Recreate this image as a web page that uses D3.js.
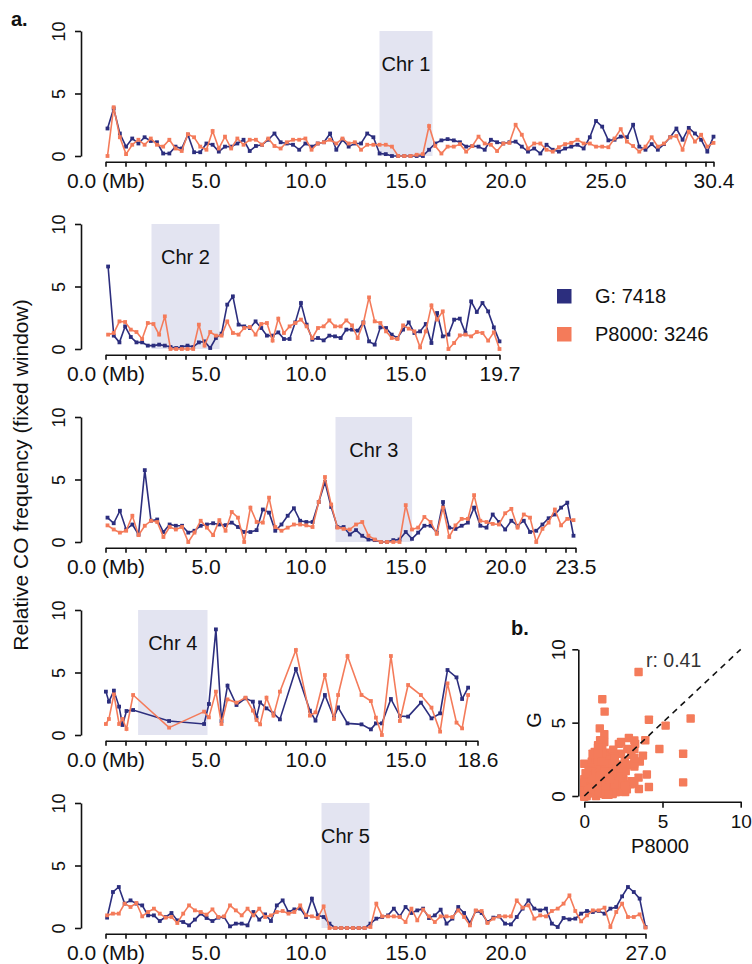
<!DOCTYPE html>
<html>
<head>
<meta charset="utf-8">
<script src="https://cdn.jsdelivr.net/npm/d3@7"></script>
<style>
  body { margin: 0; background: #fff; }
  svg text { font-family: "Liberation Sans", Arial, Helvetica, sans-serif; fill: #111; }
</style>
</head>
<body>
<script>
// ---- data ----
const chrNames = ["Chr 1", "Chr 2", "Chr 3", "Chr 4", "Chr 5"];
const chrLengths = [30.4, 19.7, 23.5, 18.6, 27.0];
const centromeres = [[13.7, 16.35], [2.3, 5.7], [11.5, 15.33], [1.63, 5.1], [10.8, 13.2]];
// first and last window centre (Mb) for evenly spaced windows
const windowSpans = [[0.1, 30.4], [0.13, 19.7], [0.1, 23.4], null, [0.08, 27.0]];
// chr 4 has uneven windows
const chr4Pos = [0.02, 0.17, 0.42, 0.68, 0.85, 1.05, 1.38, 3.18, 4.93, 5.17, 5.52, 5.8, 6.1, 6.55, 7.0,
  7.37, 7.55, 7.73, 8.05, 8.4, 8.72, 9.52, 10.22, 10.5, 10.97, 11.42, 11.63, 12.1, 12.8, 13.27, 13.52,
  13.82, 14.27, 14.72, 15.13, 15.77, 16.3, 16.73, 17.1, 17.55, 17.83, 18.13];

const chr1G = [2.2, 3.8, 1.8, 0.75, 1.4, 1.0, 1.5, 1.2, 1.1, 0.2, 0.2, 0.75, 0.6, 1.7, 0.3, 0.3, 1.0, 0.9, 0.35, 0.75,
  0.75, 1.0, 1.3, 0.4, 0.8, 0.9, 1.3, 1.8, 1.1, 1.0, 0.9, 0.5, 1.0, 0.75, 1.0, 1.1, 1.8, 0.5, 1.3, 0.75,
  1.0, 1.0, 1.8, 1.5, 0.2,
  0.15, 0, 0, 0, 0, 0, 0, 0.5, 1.0, 1.25, 1.35, 1.25, 1.1, 0.75, 0.8, 0.75, 0.5, 1.3, 1.1, 1.0,
  1.1, 1.15, 0.75, 0.35, 0.6, 0.2, 0.9, 0.5, 0.35, 0.6, 0.75, 0.9, 0.6, 1.5, 2.8, 2.35, 1.25, 1.3, 1.55, 1.5,
  2.5, 0.75, 0.5, 0.95, 0.5, 0.95, 1.5, 2.2, 1.3, 2.25, 1.8, 1.3, 0.35, 1.55];
const chr1P = [0, 3.9, 1.5, 0.15, 0.9, 1.3, 0.9, 1.4, 0.9, 0.75, 1.3, 0.6, 0.4, 1.75, 1.5, 0.75, 0.5, 2.0, 0.6, 1.55,
  0.6, 1.4, 0.9, 1.3, 1.3, 0.9, 1.4, 0.8, 0.6, 1.1, 1.3, 1.3, 1.4, 0.5, 1.0, 1.1, 1.3, 1.0, 1.4, 1.0,
  1.1, 0.5, 0.9, 0.9, 0.9,
  0.9, 0.75, 0, 0, 0, 0.1, 0.15, 2.4, 0.8, 0.2, 0.75, 0.75, 0.95, 0.35, 0.8, 1.55, 1.0, 0.9, 0.4, 1.0,
  1.05, 2.5, 1.7, 0.6, 1.0, 1.0, 0.5, 0.35, 0.7, 0.95, 1.05, 1.3, 1.0, 1.0, 0.75, 0.75, 0.7, 1.4, 2.15, 1.15,
  0.8, 0.35, 0.75, 1.5, 0.75, 1.0, 1.5, 1.6, 0.5, 1.95, 1.15, 1.7, 0.75, 1.05];

const chr2G = [6.6, 1.07, 0.53, 1.81, 0.96, 0.53, 0.53, 0.27, 0.27, 0.35, 0.27, 0.16, 0.08, 0.16, 0.27, 0.16, 0.53, 0.61, 0.08, 0.88,
  1.23, 3.55, 4.21, 1.95, 1.81, 1.68, 2.21, 1.68, 1.07, 1.07, 1.33, 0.8, 0.8, 2.13, 3.68, 1.95, 0.75, 0.88, 0.69, 1.07,
  1.01, 0.88, 1.55, 1.55, 1.47, 2.13, 0.61, 0.35, 1.73, 1.68, 1.15, 0.88, 1.55, 2.13, 1.28, 1.41, 2.0, 0.48, 2.88, 1.01,
  1.15, 2.35, 2.43, 1.28, 3.81, 2.96, 3.68, 3.01, 1.73, 0.61];
const chr2P = [1.15, 1.28, 2.21, 2.16, 1.55, 1.36, 0.8, 2.08, 2.0, 1.15, 2.61, 0, 0, 0, 0, 0, 1.95, 0.27, 1.36, 1.07,
  1.07, 2.21, 1.28, 1.15, 1.68, 1.76, 1.15, 2.0, 2.08, 0.67, 2.43, 1.28, 1.81, 2.08, 2.35, 1.81, 0.88, 1.68, 1.81, 2.29,
  1.81, 1.81, 2.29, 1.89, 0.88, 2.08, 4.13, 2.21, 2.08, 1.41, 0.88, 0.8, 1.89, 1.63, 1.41, 0.13, 1.41, 3.49, 2.35, 3.01,
  0, 0.48, 1.09, 1.15, 1.01, 1.36, 1.28, 0.67, 1.33, 0];

const chr3G = [1.95, 1.5, 2.5, 1.0, 1.4, 0.6, 5.75, 1.7, 1.8, 0.8, 1.4, 1.3, 1.3, 0.75, 0.9, 1.3, 1.4, 1.5, 1.4, 1.35,
  1.55, 1.2, 0.8, 0.8, 0.95, 2.6, 2.35, 0.9, 1.4, 2.1, 2.7, 1.7, 1.6, 1.6, 3.2, 4.8, 2.8, 1.2, 1.2, 0.6,
  0.95, 0.5, 0.2, 0.15, 0, 0, 0.15, 0.2, 0.8, 0.25, 0.75, 1.3, 1.3, 0.75, 3.2, 1.15, 1.05, 1.3, 1.55, 2.75,
  1.3, 1.15, 2.2, 1.6, 1.0, 1.7, 1.3, 1.7, 0.8, 0.9, 1.4, 1.9, 2.2, 2.75, 3.15, 0.5];
const chr3P = [1.33, 1.0, 0.75, 0.9, 2.1, 0.55, 1.3, 1.7, 1.6, 0.4, 1.2, 1.0, 1.2, 0, 0.75, 1.7, 1.15, 0.55, 1.75, 0.9,
  2.4, 1.95, 0, 2.75, 1.6, 1.55, 3.55, 1.2, 0.9, 1.15, 1.4, 1.4, 1.33, 1.2, 3.2, 5.2, 3.0, 1.15, 1.05, 1.0,
  1.4, 1.6, 0.5, 0.2, 0, 0, 0, 0, 2.95, 1.0, 1.15, 2.0, 1.6, 0.65, 2.75, 0.4, 1.33, 1.85, 1.85, 3.75,
  1.7, 1.6, 1.45, 1.4, 2.3, 2.65, 1.15, 2.2, 1.95, 0, 1.05, 1.55, 2.6, 1.33, 1.85, 1.75];

const chr4G = [3.47, 2.67, 3.55, 2.27, 0.8, 1.92, 2.0, 1.12, 0.88, 2.48, 8.45, 1.12, 3.95, 2.4, 2.93, 2.67, 1.39, 2.61, 2.13, 1.73,
  1.25, 5.28, 1.95, 1.15, 3.2, 1.4, 2.21, 0.93, 0.85, 0.45, 0.93, 0.93, 2.88, 1.52, 1.47, 2.59, 1.33, 1.73, 5.2, 4.61,
  2.88, 3.79];
const chr4P = [0.88, 1.28, 3.25, 0.88, 1.28, 0.48, 3.2, 0.59, 1.87, 1.41, 3.47, 0.88, 2.85, 2.59, 2.99, 1.95, 1.2, 0.85, 2.99, 1.55,
  3.47, 6.8, 1.55, 1.81, 4.8, 1.28, 3.2, 6.32, 3.2, 2.72, 1.39, 0, 6.32, 1.12, 4.0, 3.2, 2.19, 0.27, 4.13, 0.99,
  0.53, 3.2];

const chr5G = [0.83, 2.88, 3.28, 1.95, 2.21, 1.95, 1.81, 1.01, 1.01, 0.56, 0.88, 1.2, 0.61, 0.48, 0.21, 0.67, 1.15, 0.8, 0.56, 0.83,
  0.88, 0.13, 0.35, 0.35, 0.21, 1.28, 0.67, 1.09, 0.56, 1.81, 2.21, 1.28, 1.49, 1.55, 0.88, 2.35, 1.01, 0.88, 0.35, 0,
  0, 0, 0, 0, 0, 0.35,
  0.75, 0.88, 1.01, 1.55, 0.93, 1.68, 1.2, 1.41, 1.55, 0.8, 1.01, 1.47, 0.35, 0.75, 1.68, 1.2, 0.4, 1.36, 1.2, 0.48,
  0.83, 0.93, 0.35, 0.29, 0.88, 1.55, 2.21, 1.55, 1.41, 1.55, 0.35, 0.08, 0.8, 0.69, 0.75, 1.15, 1.36, 1.28, 1.36, 1.15,
  1.55, 1.68, 2.53, 3.28, 2.88, 2.35, 0.08];
const chr5P = [1.01, 1.15, 1.15, 1.95, 1.68, 2.0, 0.93, 1.28, 1.55, 1.15, 0.83, 0.88, 0.4, 1.15, 1.81, 1.41, 1.28, 1.07, 1.49, 0.88,
  0.93, 1.81, 1.41, 1.01, 1.55, 1.01, 1.55, 0.88, 1.01, 1.28, 1.36, 1.15, 1.28, 1.81, 1.01, 0.93, 0.8, 1.73, 0, 0,
  0, 0, 0, 0, 0, 0.08,
  1.95, 0.93, 0.93, 0.93, 0.88, 0.48, 1.55, 0.61, 1.47, 0.93, 0.48, 0.93, 0.93, 0.88, 1.41, 0.88, 0.21, 1.41, 1.36, 0.4,
  0.75, 0.93, 0.93, 0.93, 2.21, 1.63, 1.81, 0.75, 1.01, 0.93, 1.36, 1.55, 1.95, 2.61, 1.36, 0.53, 1.01, 1.41, 1.41, 1.63,
  0.08, 1.28, 1.95, 0.88, 0.88, 1.09, 0.03];

const gValues = [chr1G, chr2G, chr3G, chr4G, chr5G];
const pValues = [chr1P, chr2P, chr3P, chr4P, chr5P];
const seriesNames = ["G", "P8000"];
const seriesCounts = [7418, 3246];
const seriesColors = ["#2c2e7e", "#f47b5a"];
const corrR = 0.41;

// ---- layout ----
const svg = d3.select("body").append("svg")
  .attr("width", 752)
  .attr("height", 964);

const xStart = 105.5;   // pixel of 0 Mb
const pxPerMb = 20;
const axisX = 81;

function windowPositions(k, n) {
  if (k === 3) return chr4Pos;
  const s = d3.scaleLinear().domain([0, n - 1]).range(windowSpans[k]);
  return d3.range(n).map(s);
}

chrNames.forEach((name, k) => {
  const base = 156 + 193 * k;
  const len = chrLengths[k];
  const x = d3.scaleLinear().domain([0, len]).range([xStart, xStart + pxPerMb * len]);
  const y = d3.scaleLinear().domain([0, 10]).range([base, base - 125]);
  const g = svg.append("g").attr("class", "panel");

  // centromere box
  const c = centromeres[k];
  g.append("rect")
    .attr("x", x(c[0]))
    .attr("y", y(10))
    .attr("width", x(c[1]) - x(c[0]))
    .attr("height", y(0) - y(10))
    .attr("fill", "#e3e4f1");
  g.append("text")
    .attr("x", x((c[0] + c[1]) / 2))
    .attr("y", y(7.4) + 7)
    .attr("text-anchor", "middle")
    .style("font-size", "20px")
    .text(name);

  // y axis
  const ya = g.append("g")
    .attr("transform", `translate(${axisX},0)`)
    .call(d3.axisLeft(y).tickValues([0, 5, 10]).tickSize(6).tickSizeOuter(0).tickFormat(d3.format("d")));
  ya.selectAll(".tick text")
    .attr("transform", "rotate(-90)")
    .attr("x", 0).attr("y", -16).attr("dy", 0)
    .attr("text-anchor", "middle")
    .style("font-size", "18px");

  // x axis: 1 Mb ticks, labels every 5 Mb plus the chromosome end
  const ticks = d3.range(0, Math.floor(len) + 1);
  if (len > Math.floor(len)) ticks.push(len);
  const xa = g.append("g")
    .attr("transform", `translate(0,${base + 5.7})`)
    .call(d3.axisBottom(x).tickValues(ticks).tickSize(5).tickSizeOuter(0)
      .tickFormat(d => {
        if (d === 0) return "0.0 (Mb)";
        if (d === len) return d.toFixed(1);
        if (d % 5 === 0 && d <= len - 3) return d.toFixed(1);
        return "";
      }));
  xa.selectAll(".tick text")
    .attr("y", 26.5).attr("dy", 0)
    .style("font-size", "21px");

  [ya, xa].forEach(a => {
    a.selectAll("path, line").attr("stroke", "#111").attr("stroke-width", 1.6);
    a.selectAll("text").attr("fill", "#111");
  });

  // G and P8000 series
  const pos = windowPositions(k, gValues[k].length);
  [gValues[k], pValues[k]].forEach((vals, s) => {
    const pts = vals.map((v, i) => [pos[i], v]);
    g.append("path")
      .datum(pts)
      .attr("d", d3.line().x(d => x(d[0])).y(d => y(d[1])))
      .attr("fill", "none")
      .attr("stroke", seriesColors[s])
      .attr("stroke-width", 1.6);
    g.append("g").selectAll("rect")
      .data(pts)
      .join("rect")
      .attr("x", d => x(d[0]) - 1.9)
      .attr("y", d => y(d[1]) - 1.9)
      .attr("width", 3.8)
      .attr("height", 3.8)
      .attr("fill", seriesColors[s]);
  });
});

// y title
svg.append("text")
  .attr("transform", "translate(28,475) rotate(-90)")
  .attr("text-anchor", "middle")
  .style("font-size", "21px")
  .text("Relative CO frequency (fixed window)");

// panel letters
svg.append("text").attr("x", 11).attr("y", 26)
  .style("font-size", "20px").style("font-weight", "bold").text("a.");
svg.append("text").attr("x", 511).attr("y", 635)
  .style("font-size", "20px").style("font-weight", "bold").text("b.");

// legend
seriesNames.forEach((n, s) => {
  const ly = 289 + 38 * s;
  svg.append("rect")
    .attr("x", 557).attr("y", ly)
    .attr("width", 14.5).attr("height", 14.5)
    .attr("fill", seriesColors[s]);
  svg.append("text")
    .attr("x", 595).attr("y", ly + 13.5)
    .style("font-size", "20px")
    .text(`${n}: ${seriesCounts[s]}`);
});

// ---- b. scatter of P8000 vs G per window ----
const sx = d3.scaleLinear().domain([0, 10]).range([584.3, 740.7]);
const sy = d3.scaleLinear().domain([0, 10]).range([796, 649.3]);
const pairs = [];
gValues.forEach((gv, k) => gv.forEach((v, i) => pairs.push([pValues[k][i], v])));

const sc = svg.append("g").attr("class", "scatter");
sc.append("g").selectAll("rect")
  .data(pairs)
  .join("rect")
  .attr("x", d => sx(d[0]) - 4.2)
  .attr("y", d => sy(d[1]) - 4.2)
  .attr("width", 8.4)
  .attr("height", 8.4)
  .attr("rx", 0.8)
  .attr("fill", seriesColors[1]);

sc.append("line")
  .attr("x1", sx(0)).attr("y1", sy(0))
  .attr("x2", sx(10)).attr("y2", sy(10))
  .attr("stroke", "#111")
  .attr("stroke-width", 1.6)
  .attr("stroke-dasharray", "6,5");

const sya = sc.append("g")
  .attr("transform", "translate(578.3,0)")
  .call(d3.axisLeft(sy).tickValues([0, 5, 10]).tickSize(6).tickSizeOuter(0).tickFormat(d3.format("d")));
sya.selectAll(".tick text")
  .attr("transform", "rotate(-90)")
  .attr("x", 0).attr("y", -13).attr("dy", 0)
  .attr("text-anchor", "middle")
  .style("font-size", "19px");
const sxa = sc.append("g")
  .attr("transform", "translate(0,801.7)")
  .call(d3.axisBottom(sx).tickValues([0, 5, 10]).tickSize(6).tickSizeOuter(0).tickFormat(d3.format("d")));
sxa.selectAll(".tick text")
  .attr("y", 26).attr("dy", 0)
  .style("font-size", "19px");
[sya, sxa].forEach(a => {
  a.selectAll("path, line").attr("stroke", "#111").attr("stroke-width", 1.6);
  a.selectAll("text").attr("fill", "#111");
});

sc.append("text")
  .attr("transform", "translate(541,720) rotate(-90)")
  .attr("text-anchor", "middle")
  .style("font-size", "20px")
  .text(seriesNames[0]);
sc.append("text")
  .attr("x", 660).attr("y", 853)
  .attr("text-anchor", "middle")
  .style("font-size", "20px")
  .text(seriesNames[1]);
sc.append("text")
  .attr("x", 646).attr("y", 667)
  .style("font-size", "19.5px")
  .style("fill", "#333")
  .text(`r: ${corrR}`);
</script>
</body>
</html>
